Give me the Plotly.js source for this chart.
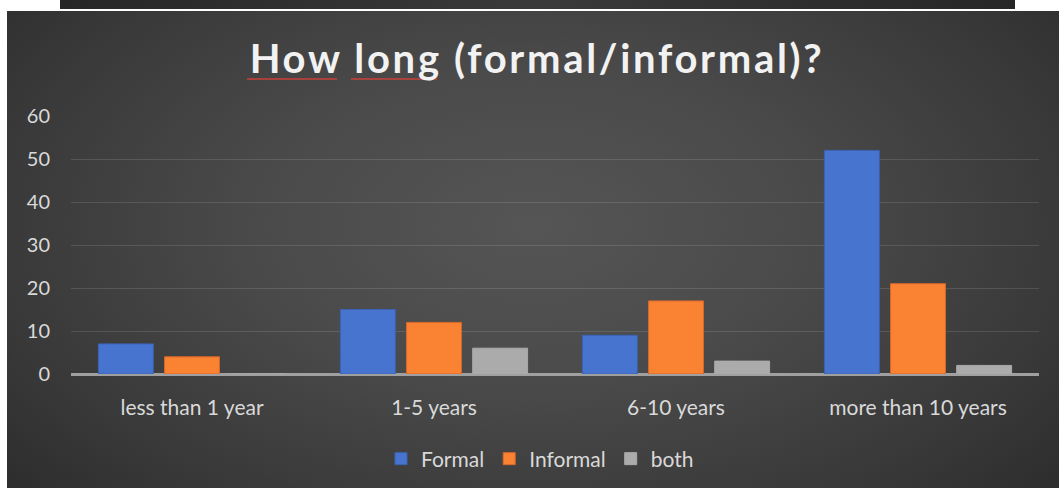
<!DOCTYPE html>
<html>
<head>
<meta charset="utf-8">
<script src="https://cdn.plot.ly/plotly-3.0.1.min.js"></script>
<style>
  html, body { margin: 0; padding: 0; background: #ffffff; width: 1059px; height: 488px; overflow: hidden; position: relative; }
  #topbar { position: absolute; left: 60px; top: 0; width: 955px; height: 9px;
            background: linear-gradient(90deg, #262626 0%, #3a3a3a 50%, #262626 100%); }
  #chart { position: absolute; left: 7px; top: 11px; width: 1052px; height: 477px;
           background: radial-gradient(ellipse 75% 95% at 50% 45%, #555555 0%, #4a4a4a 35%, #383838 70%, #262626 100%); }
</style>
</head>
<body>
<div id="topbar"></div>
<div id="chart"></div>
<script>
const categories = ["less than 1 year", "1-5 years", "6-10 years", "more than 10 years"];
const seriesNames = ["Formal", "Informal", "both"];
const formal = [7, 15, 9, 52];
const informal = [4, 12, 17, 21];
const both = [0, 6, 3, 2];
const yTicks = [0, 10, 20, 30, 40, 50, 60];
const titleText = '<span style="letter-spacing:2.7px">How long (formal/informal)?</span>';

const colors = ["#4674cf", "#f98233", "#ababab"];
const lines = ["#3b63b3", "#d8692a", "#ababab"];
const values = [formal, informal, both];

const traces = values.map((v, i) => ({
  type: "bar",
  name: seriesNames[i],
  x: categories,
  y: v,
  marker: { color: colors[i], line: { color: lines[i], width: 1 } },
  hoverinfo: "x+y+name"
}));

const font = "Lato, 'Open Sans', 'DejaVu Sans', sans-serif";

const layout = {
  width: 1052,
  height: 477,
  paper_bgcolor: "rgba(0,0,0,0)",
  plot_bgcolor: "rgba(0,0,0,0)",
  margin: { l: 64, r: 20, t: 105, b: 114 },
  barmode: "group",
  bargap: 0.18,
  bargroupgap: 0.17,
  title: {
    text: titleText,
    font: { family: font, size: 40, color: "#f2f2f2", weight: "bold" },
    x: 0.5038, xanchor: "center", xref: "container",
    y: 0.90, yanchor: "middle", yref: "container"
  },
  xaxis: {
    type: "category",
    tickfont: { family: font, size: 21, color: "#d9d9d9" },
    ticks: "",
    showgrid: false,
    showline: false,
    zeroline: false,
    ticklabelstandoff: 19
  },
  yaxis: {
    range: [0, 60],
    tickvals: yTicks,
    ticktext: yTicks.map(String),
    tickfont: { family: font, size: 20, color: "#d9d9d9" },
    showgrid: true,
    gridcolor: "rgba(255,255,255,0.12)",
    gridwidth: 1,
    zeroline: true,
    zerolinecolor: "#a0a0a0",
    zerolinewidth: 3,
    showline: false,
    ticks: "",
    ticklabelstandoff: 20
  },
  legend: {
    orientation: "h",
    x: 0.4845, xanchor: "center",
    y: 0.0608, yanchor: "middle", yref: "container",
    font: { family: font, size: 21, color: "#d9d9d9" },
    bgcolor: "rgba(0,0,0,0)",
    itemwidth: 30,
    tracegroupgap: 0
  },
  shapes: [
    { type: "line", xref: "paper", yref: "paper", x0: 0.1818, x1: 0.2748, y0: 1.1434, y1: 1.1434,
      line: { color: "#c8403a", width: 1.5 } },
    { type: "line", xref: "paper", yref: "paper", x0: 0.2893, x1: 0.3781, y0: 1.1434, y1: 1.1434,
      line: { color: "#c8403a", width: 1.5 } }
  ],
  showlegend: true
};

Plotly.newPlot("chart", traces, layout, { displayModeBar: false, staticPlot: true });
</script>
</body>
</html>
